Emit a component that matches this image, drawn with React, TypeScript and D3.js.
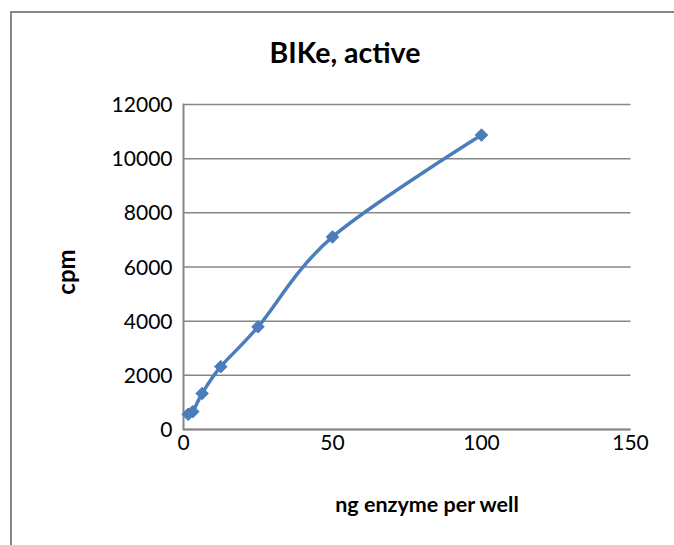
import React from "react";
import * as d3 from "d3";

const xValues = [1.5625, 3.125, 6.25, 12.5, 25, 50, 100];
const yValues = [560, 660, 1330, 2320, 3790, 7110, 10870];
const xTicks = [0, 50, 100, 150];
const yTicks = [0, 2000, 4000, 6000, 8000, 10000, 12000];
const title = "BIKe, active";
const xTitle = "ng enzyme per well";
const yTitle = "cpm";

const W = 674;
const H = 545;
const plot = { left: 183.5, right: 630.5, top: 104.5, bottom: 429.5 };
const font = "Lato, 'Open Sans', sans-serif";
const blue = "#4A7EBB";
const gray = "#868686";

export default function App() {
  const x = d3.scaleLinear().domain([0, 150]).range([plot.left, plot.right]);
  const y = d3.scaleLinear().domain([0, 12000]).range([plot.bottom, plot.top]);
  const pts: [number, number][] = xValues.map((v, i) => [x(v), y(yValues[i])]);
  const line = d3.line().curve(d3.curveCatmullRom.alpha(0))(pts) || "";
  const diamond = d3.symbol().type(d3.symbolDiamond2).size(100)() || "";

  return (
    <svg
      width={W}
      height={H}
      style={{ position: "absolute", left: 0, top: 0, background: "#fff" }}
    >
      <line x1={11} x2={W} y1={12} y2={12} stroke={gray} strokeWidth={2} />
      <line x1={11} x2={11} y1={11} y2={H} stroke={gray} strokeWidth={2} />
      {yTicks.map((t) => (
        <line key={t} x1={plot.left} x2={plot.right} y1={y(t)} y2={y(t)} stroke={gray} strokeWidth={1.5} />
      ))}
      <line x1={plot.left} x2={plot.left} y1={plot.top - 1} y2={plot.bottom + 1} stroke={gray} strokeWidth={2} />
      <line x1={plot.left} x2={plot.right} y1={plot.bottom} y2={plot.bottom} stroke={gray} strokeWidth={2} />
      {yTicks.map((t) => (
        <text key={t} x={plot.left - 11} y={y(t)} dy="0.36em" textAnchor="end" fontFamily={font} fontSize={21} fill="#000">
          {t}
        </text>
      ))}
      {xTicks.map((t) => (
        <text key={t} x={x(t)} y={plot.bottom + 20} textAnchor="middle" fontFamily={font} fontSize={21} fill="#000">
          {t}
        </text>
      ))}
      <path d={line} fill="none" stroke={blue} strokeWidth={3.5} strokeLinejoin="round" />
      {pts.map(([px, py], i) => (
        <path key={i} d={diamond} transform={`translate(${px},${py})`} fill={blue} stroke={blue} strokeWidth={1} />
      ))}
      <text x={345} y={63} textAnchor="middle" fontFamily={font} fontWeight="bold" fontSize={28.5} fill="#000">
        {title}
      </text>
      <text x={427} y={512} textAnchor="middle" fontFamily={font} fontWeight="bold" fontSize={21.5} fill="#000">
        {xTitle}
      </text>
      <text
        transform={`translate(75,${(plot.top + plot.bottom) / 2 + 5}) rotate(-90)`}
        textAnchor="middle"
        fontFamily={font}
        fontWeight="bold"
        fontSize={24}
        fill="#000"
      >
        {yTitle}
      </text>
    </svg>
  );
}
